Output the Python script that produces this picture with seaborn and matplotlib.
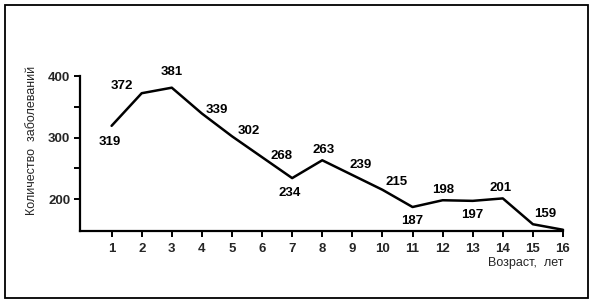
import matplotlib
matplotlib.use("Agg")
import matplotlib.pyplot as plt
import seaborn as sns
import pandas as pd
from matplotlib.patches import Rectangle

# Data
ages = [1, 2, 3, 4, 5, 6, 7, 8, 9, 10, 11, 12, 13, 14, 15, 16]
counts = [319, 372, 381, 339, 302, 268, 234, 263, 239, 215, 187, 198, 197, 201, 159, 150]
value_labels = ["319", "372", "381", "339", "302", "268", "234", "263", "239", "215",
                "187", "198", "197", "201", "159", ""]
y_ticks = [200, 300, 400]
y_minor = [250, 350]
x_label = "Возраст,  лет"
y_label = "Количество  заболеваний"

# label offsets (pixels) -- styling only
offsets = [(-2, 16), (-20, -7), (0, -16), (15, -4), (17, -5), (19, -1), (-2, 15),
           (1, -10), (8, -10), (14, -8), (0, 14), (0, -10), (0, 14), (-2, -10), (12, -10), (0, 0)]

sns.set_style("ticks")
plt.rcParams["font.family"] = ["Liberation Sans", "DejaVu Sans"]

fig = plt.figure(figsize=(5.94, 3.02), dpi=100)
ax = fig.add_axes([80 / 594, (302 - 231) / 302, (563 - 80) / 594, (231 - 76) / 302])

df = pd.DataFrame({"age": ages, "count": counts})
sns.lineplot(data=df, x="age", y="count", ax=ax, color="black", linewidth=1.8, clip_on=False)

num_font = dict(fontsize=9.5, fontweight="bold")

ax.set_xlim(-0.05, 16)
ax.set_ylim(148, 400)
ax.set_xticks(ages)
ax.set_xticklabels([str(a) for a in ages], **num_font)
ax.set_yticks(y_ticks)
ax.set_yticklabels([str(t) for t in y_ticks], **num_font)
ax.set_yticks(y_minor, minor=True)
ax.tick_params(axis="both", which="both", direction="out", length=4, width=1.4, color="black")
ax.tick_params(axis="x", pad=5)
ax.tick_params(axis="y", pad=3)

for side in ["top", "right"]:
    ax.spines[side].set_visible(False)
for side in ["left", "bottom"]:
    ax.spines[side].set_linewidth(1.6)
    ax.spines[side].set_color("black")

ax.set_xlabel("")
ax.set_ylabel("")

for a, c, lab, (dx, dy) in zip(ages, counts, value_labels, offsets):
    if lab:
        ax.annotate(lab, (a, c), xytext=(dx * 0.72, -dy * 0.72), textcoords="offset points",
                    ha="center", va="center", color="black", annotation_clip=False, **num_font)

fig.text(564 / 594, 1 - 263 / 302, x_label, ha="right", va="center", fontsize=9)
fig.text(32 / 594, 1 - 140 / 302, y_label, ha="center", va="center", rotation=90, fontsize=9)

fig.patches.append(Rectangle((4.5 / 594, 4.5 / 302), (588 - 4.5) / 594, (297 - 4.5) / 302,
                             transform=fig.transFigure, fill=False, edgecolor="black", linewidth=1.3))

fig.savefig("out.png", dpi=100)
